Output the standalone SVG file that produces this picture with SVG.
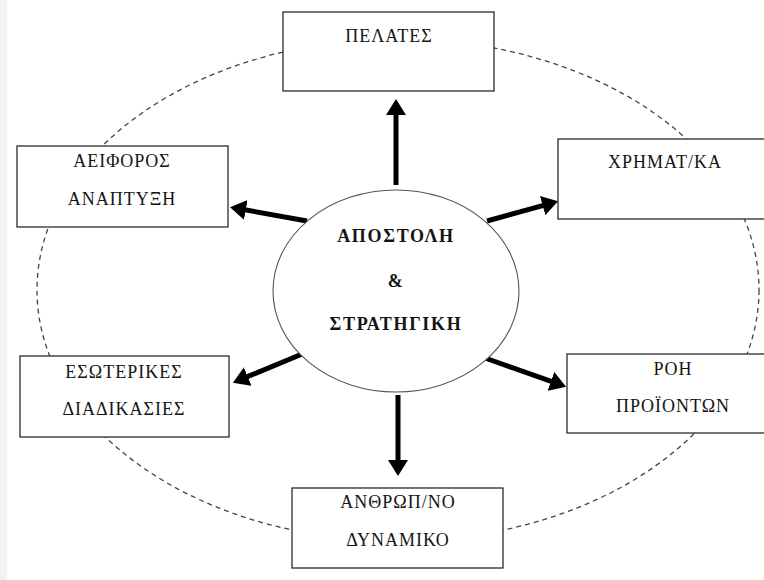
<svg xmlns="http://www.w3.org/2000/svg" width="764" height="580" viewBox="0 0 764 580">
  <style>
    .box { fill: #ffffff; stroke: #2b2b2b; stroke-width: 1.3; }
    .core { fill: #ffffff; stroke: #555555; stroke-width: 1.1; }
    .orbit { fill: none; stroke: #444444; stroke-width: 1.3; stroke-dasharray: 5 4; }
    .lbl { font-family: "Liberation Serif", "Times New Roman", serif; font-size: 18px; letter-spacing: 1px; fill: #141414; text-anchor: middle; }
    .bold { font-weight: bold; letter-spacing: 1.7px; }
    .shaft { stroke: #000000; stroke-width: 5; fill: none; marker-end: url(#head); }
  </style>
  <defs>
    <marker id="head" markerUnits="userSpaceOnUse" viewBox="0 -10 16 20" markerWidth="16" markerHeight="20" refX="1" refY="0" orient="auto">
      <path d="M0,-10 L16,0 L0,10 Z" fill="#000000"/>
    </marker>
  </defs>

  <rect x="0" y="0" width="764" height="580" fill="#ffffff"/>
  <rect x="0" y="0" width="7" height="580" fill="#f3f3f3"/>

  <!-- dashed outer ring -->
  <ellipse class="orbit" cx="398" cy="290" rx="361" ry="251"/>

  <!-- connectors from the centre -->
  <g id="connectors">
    <line class="shaft" x1="396" y1="185" x2="396" y2="114"/>
    <line class="shaft" x1="307" y1="221" x2="244.8" y2="209.8"/>
    <line class="shaft" x1="487" y1="221" x2="543.6" y2="205.3"/>
    <line class="shaft" x1="307" y1="352" x2="246.8" y2="376.9"/>
    <line class="shaft" x1="485" y1="358" x2="551.9" y2="381.7"/>
    <line class="shaft" x1="398" y1="395" x2="398" y2="461"/>
  </g>

  <g id="center">
    <ellipse class="core" cx="396" cy="291" rx="123" ry="101"/>
    <text class="lbl bold" x="396" y="242">ΑΠΟΣΤΟΛΗ</text>
    <text class="lbl bold" x="396" y="287">&amp;</text>
    <text class="lbl bold" x="396" y="330">ΣΤΡΑΤΗΓΙΚΗ</text>
  </g>

  <g id="pelates">
    <rect class="box" x="283" y="12" width="211" height="79"/>
    <text class="lbl" x="389" y="42">ΠΕΛΑΤΕΣ</text>
  </g>

  <g id="aeiforos">
    <rect class="box" x="17" y="146" width="211" height="81"/>
    <text class="lbl" x="122" y="167">ΑΕΙΦΟΡΟΣ</text>
    <text class="lbl" x="122" y="205">ΑΝΑΠΤΥΞΗ</text>
  </g>

  <g id="xrimatooikonomika">
    <rect class="box" x="558" y="139" width="215" height="80"/>
    <text class="lbl" x="665" y="168">ΧΡΗΜΑΤ/ΚΑ</text>
  </g>

  <g id="esoterikes">
    <rect class="box" x="20" y="356" width="209" height="81"/>
    <text class="lbl" x="124" y="378">ΕΣΩΤΕΡΙΚΕΣ</text>
    <text class="lbl" x="124" y="415">ΔΙΑΔΙΚΑΣΙΕΣ</text>
  </g>

  <g id="roi">
    <rect class="box" x="567" y="354" width="206" height="79"/>
    <text class="lbl" x="673" y="375">ΡΟΗ</text>
    <text class="lbl" x="673" y="412">ΠΡΟΪΟΝΤΩΝ</text>
  </g>

  <g id="anthropino">
    <rect class="box" x="292" y="488" width="211" height="80"/>
    <text class="lbl" x="398" y="508">ΑΝΘΡΩΠ/ΝΟ</text>
    <text class="lbl" x="398" y="546">ΔΥΝΑΜΙΚΟ</text>
  </g>
</svg>
